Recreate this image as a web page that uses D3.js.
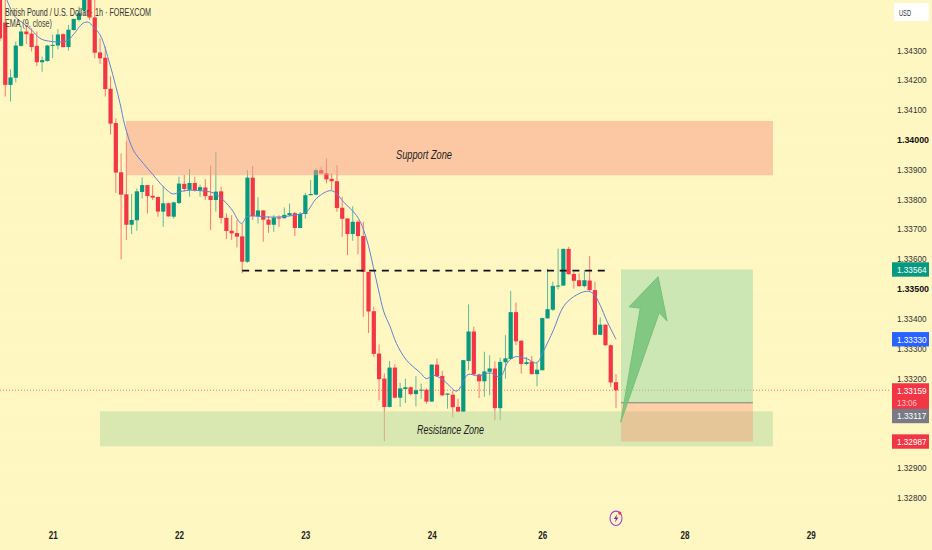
<!DOCTYPE html>
<html><head><meta charset="utf-8">
<style>html,body{margin:0;padding:0;background:#fff7c2;overflow:hidden}svg{display:block}</style>
<script src="https://cdn.jsdelivr.net/npm/d3@7/dist/d3.min.js"></script></head>
<body><svg id="c" width="932" height="550"></svg>
<script>
const opens=[1.34490,1.34392,1.34183,1.34207,1.34314,1.34362,1.34355,1.34314,1.34259,1.34263,1.34315,1.34315,1.34353,1.34310,1.34367,1.34401,1.34434,1.34468,1.34409,1.34292,1.34274,1.34170,1.34055,1.33890,1.33816,1.33714,1.33729,1.33824,1.33847,1.33811,1.33807,1.33758,1.33786,1.33741,1.33787,1.33851,1.33831,1.33854,1.33829,1.33839,1.33811,1.33797,1.33826,1.33737,1.33694,1.33686,1.33675,1.33590,1.33872,1.33742,1.33762,1.33731,1.33714,1.33738,1.33736,1.33746,1.33753,1.33703,1.33750,1.33813,1.33815,1.33897,1.33887,1.33868,1.33860,1.33771,1.33735,1.33683,1.33724,1.33676,1.33556,1.33424,1.33282,1.33198,1.33103,1.33235,1.33134,1.33163,1.33169,1.33146,1.33159,1.33161,1.33121,1.33245,1.33207,1.33144,1.33144,1.33103,1.33087,1.33257,1.33356,1.33212,1.33189,1.33221,1.33232,1.33099,1.33253,1.33264,1.33421,1.33325,1.33247,1.33255,1.33213,1.33226,1.33400,1.33429,1.33508,1.33510,1.33633,1.33549,1.33528,1.33508,1.33527,1.33495,1.33345,1.33379,1.33310,1.33186];
const highs=[1.34500,1.34468,1.34235,1.34328,1.34381,1.34378,1.34373,1.34362,1.34278,1.34317,1.34351,1.34370,1.34356,1.34384,1.34406,1.34446,1.34490,1.34490,1.34468,1.34339,1.34311,1.34211,1.34071,1.33953,1.33993,1.33817,1.33836,1.33873,1.33847,1.33847,1.33808,1.33844,1.33788,1.33791,1.33875,1.33881,1.33901,1.33875,1.33849,1.33867,1.33912,1.33957,1.33842,1.33752,1.33746,1.33730,1.33718,1.33897,1.33911,1.33806,1.33763,1.33743,1.33746,1.33746,1.33772,1.33785,1.33757,1.33757,1.33821,1.33864,1.33903,1.33909,1.33936,1.33886,1.33914,1.33808,1.33735,1.33776,1.33730,1.33724,1.33556,1.33439,1.33313,1.33215,1.33257,1.33246,1.33184,1.33198,1.33172,1.33206,1.33181,1.33165,1.33246,1.33265,1.33224,1.33149,1.33157,1.33131,1.33260,1.33447,1.33372,1.33215,1.33288,1.33276,1.33256,1.33268,1.33344,1.33492,1.33453,1.33327,1.33271,1.33274,1.33254,1.33403,1.33567,1.33523,1.33634,1.33634,1.33640,1.33556,1.33551,1.33562,1.33609,1.33523,1.33403,1.33379,1.33312,1.33213];
const lows=[1.34330,1.34144,1.34127,1.34191,1.34311,1.34320,1.34295,1.34246,1.34227,1.34261,1.34272,1.34302,1.34308,1.34298,1.34365,1.34395,1.34418,1.34401,1.34272,1.34253,1.34144,1.34017,1.33821,1.33598,1.33663,1.33683,1.33694,1.33802,1.33752,1.33797,1.33741,1.33707,1.33741,1.33735,1.33783,1.33825,1.33808,1.33825,1.33808,1.33797,1.33696,1.33758,1.33718,1.33666,1.33663,1.33638,1.33551,1.33586,1.33730,1.33718,1.33657,1.33687,1.33690,1.33707,1.33734,1.33743,1.33676,1.33702,1.33735,1.33813,1.33813,1.33884,1.33853,1.33830,1.33757,1.33674,1.33612,1.33660,1.33615,1.33405,1.33351,1.33271,1.33125,1.32988,1.33101,1.33131,1.33103,1.33116,1.33142,1.33105,1.33131,1.33114,1.33120,1.33204,1.33140,1.33097,1.33067,1.33086,1.33086,1.33226,1.33209,1.33133,1.33137,1.33142,1.33058,1.33058,1.33198,1.33262,1.33310,1.33215,1.33243,1.33212,1.33172,1.33226,1.33400,1.33425,1.33497,1.33509,1.33547,1.33500,1.33506,1.33504,1.33492,1.33344,1.33344,1.33308,1.33170,1.33099];
const closes=[1.34339,1.34183,1.34208,1.34315,1.34362,1.34353,1.34310,1.34259,1.34266,1.34315,1.34317,1.34352,1.34310,1.34368,1.34404,1.34423,1.34468,1.34409,1.34291,1.34272,1.34169,1.34053,1.33889,1.33815,1.33714,1.33730,1.33826,1.33847,1.33810,1.33805,1.33758,1.33786,1.33742,1.33789,1.33852,1.33834,1.33854,1.33829,1.33840,1.33810,1.33797,1.33825,1.33737,1.33693,1.33685,1.33674,1.33590,1.33872,1.33743,1.33762,1.33731,1.33714,1.33738,1.33737,1.33747,1.33753,1.33703,1.33750,1.33813,1.33817,1.33897,1.33886,1.33866,1.33860,1.33770,1.33734,1.33683,1.33724,1.33676,1.33556,1.33423,1.33281,1.33196,1.33103,1.33235,1.33134,1.33165,1.33169,1.33146,1.33159,1.33161,1.33121,1.33245,1.33206,1.33142,1.33148,1.33102,1.33087,1.33260,1.33356,1.33212,1.33189,1.33222,1.33232,1.33099,1.33254,1.33266,1.33421,1.33323,1.33247,1.33253,1.33213,1.33228,1.33401,1.33431,1.33509,1.33510,1.33633,1.33548,1.33526,1.33508,1.33528,1.33495,1.33345,1.33379,1.33310,1.33185,1.33159];
const emaBars=[1.3,2.85,4.4,6,7.6,9.2,12.7,13.9,15.8,16.8,17.7,19,20.9,22.8,23.7,25.3,27.2,29.1,31,32.9,34.2,36.1,38,40.5,42.4,44.3,45,45.9,46.9,48.8,50.7,53.8,57,58.2,60.1,62,63,63.9,65.2,66.5,68.1,69.6,70.9,71.9,72.9,74.1,75.3,77.2,79.8,81,82.3,84.2,86.7,87.7,88.9,90.8,93.1,95,96.5,97.8,100,101.9,103.3,105.1,107,108.9,111.4,112.7,114,115.2,117];
const emaValues=[1.34468,1.34412,1.34390,1.34367,1.34339,1.34330,1.34330,1.34351,1.34390,1.34393,1.34378,1.34351,1.34250,1.34121,1.34048,1.33965,1.33920,1.33881,1.33842,1.33817,1.33825,1.33830,1.33828,1.33821,1.33797,1.33758,1.33735,1.33718,1.33741,1.33743,1.33740,1.33741,1.33750,1.33757,1.33802,1.33825,1.33828,1.33819,1.33791,1.33769,1.33735,1.33668,1.33573,1.33495,1.33422,1.33372,1.33316,1.33260,1.33218,1.33198,1.33209,1.33193,1.33156,1.33176,1.33212,1.33207,1.33217,1.33204,1.33254,1.33271,1.33265,1.33251,1.33293,1.33360,1.33439,1.33472,1.33491,1.33483,1.33444,1.33394,1.33330];
const priceTicks=[1.343,1.342,1.341,1.34,1.339,1.338,1.337,1.336,1.335,1.334,1.333,1.332,1.331,1.33,1.329,1.328];
const boldTicks=[1.34,1.335];
const dayBars=[10,34,58,82,103,130,154];
const dayLabels=["21","22","23","24","26","28","29"];
const supportZone={bar0:23.93,bar1:146.8,top:1.34062,bottom:1.33880,label:"Support Zone"};
const resistanceZone={bar0:19,bar1:146.8,top:1.33088,bottom:1.32971,label:"Resistance Zone"};
const position={bar0:117.95,bar1:143,target:1.33564,entry:1.33117,stop:1.32987};
const levelLine={bar0:46,bar1:115,price:1.33560};
const arrowBars=[117.9,121.6,119.5,125,126.7,125.2];
const arrowPrices=[1.33052,1.33434,1.33439,1.33540,1.33391,1.33419];
const priceTags=[[1.33564,"#089981"],[1.33330,"#2962ff"],[1.33117,"#787b86"],[1.32987,"#f23645"]];
const lastPrice=1.33159,countdown="13:06";

const UP="#089981",DOWN="#f23645",FONT="'Liberation Sans',Arial,sans-serif";
const svg=d3.select("#c");
const x=d3.scaleLinear().domain([0,117]).range([0,616]);
const y=d3.scaleLinear().domain([1.343,1.328]).range([50,497.3]);
const plotRight=890;
const fmt=d3.format(".5f");

svg.append("rect").attr("width",932).attr("height",550).attr("fill","#fff7c2");
svg.append("g").selectAll("line").data(priceTicks).join("line")
  .attr("x1",0).attr("x2",plotRight).attr("y1",d=>y(d)).attr("y2",d=>y(d))
  .attr("stroke","#fff").attr("stroke-width",1).attr("stroke-opacity",.14);

const bars=d3.range(opens.length);
const cg=svg.append("g");
cg.selectAll("line").data(bars).join("line")
  .attr("x1",i=>x(i)).attr("x2",i=>x(i))
  .attr("y1",i=>y(highs[i])).attr("y2",i=>y(lows[i]))
  .attr("stroke",i=>closes[i]>=opens[i]?UP:DOWN).attr("stroke-width",1).attr("stroke-opacity",.65);
cg.selectAll("rect").data(bars).join("rect")
  .attr("x",i=>x(i)-2.1).attr("width",4.2)
  .attr("y",i=>y(Math.max(opens[i],closes[i])))
  .attr("height",i=>Math.max(1,Math.abs(y(opens[i])-y(closes[i]))))
  .attr("fill",i=>closes[i]>=opens[i]?UP:DOWN);

svg.append("line").attr("x1",0).attr("x2",plotRight).attr("y1",y(lastPrice)).attr("y2",y(lastPrice))
  .attr("stroke",DOWN).attr("stroke-opacity",.7).attr("stroke-dasharray","1 2");

function zone(z,fill){
  svg.append("rect").attr("x",x(z.bar0)).attr("width",x(z.bar1)-x(z.bar0))
    .attr("y",y(z.top)).attr("height",y(z.bottom)-y(z.top)).attr("fill",fill).attr("fill-opacity",.5);
}
zone(supportZone,"#f79984");
zone(resistanceZone,"#b3d99e");
svg.append("rect").attr("x",x(position.bar0)).attr("width",x(position.bar1)-x(position.bar0))
  .attr("y",y(position.target)).attr("height",y(position.entry)-y(position.target)).attr("fill","#99d5a6").attr("fill-opacity",.5);
svg.append("rect").attr("x",x(position.bar0)).attr("width",x(position.bar1)-x(position.bar0))
  .attr("y",y(position.entry)).attr("height",y(position.stop)-y(position.entry)).attr("fill","#f9886f").attr("fill-opacity",.35);
svg.append("line").attr("x1",x(position.bar0)).attr("x2",x(position.bar1))
  .attr("y1",y(position.entry)).attr("y2",y(position.entry)).attr("stroke","#808080").attr("stroke-width",1);

svg.append("path").datum(d3.range(emaBars.length))
  .attr("d",d3.line().x(i=>x(emaBars[i])).y(i=>y(emaValues[i])).curve(d3.curveCatmullRom))
  .attr("fill","none").attr("stroke","#5f82d6").attr("stroke-width",1);

svg.append("line").attr("x1",x(levelLine.bar0)).attr("x2",x(levelLine.bar1))
  .attr("y1",y(levelLine.price)).attr("y2",y(levelLine.price))
  .attr("stroke","#111").attr("stroke-width",1.7).attr("stroke-dasharray","7 5.7");

svg.append("polygon").attr("points",arrowBars.map((b,i)=>x(b)+","+y(arrowPrices[i])).join(" "))
  .attr("fill","#74c27a").attr("fill-opacity",.85).attr("stroke","#74c27a").attr("stroke-width",1).attr("stroke-linejoin","round");

function lab(t,cx,cy,len){
  svg.append("text").attr("x",cx).attr("y",cy).attr("text-anchor","middle").attr("font-family",FONT)
    .attr("font-style","italic").attr("font-size",12).attr("fill","#222")
    .attr("textLength",len).attr("lengthAdjust","spacingAndGlyphs").text(t);
}
lab(supportZone.label,424,159,56);
lab(resistanceZone.label,450.5,434,67);

const yAxis=svg.append("g").attr("transform","translate(897,0)")
  .call(d3.axisRight(y).tickValues(priceTicks).tickSize(0).tickPadding(0).tickFormat(fmt));
yAxis.select(".domain").remove();
yAxis.selectAll("text").attr("font-family",FONT).attr("font-size",9.5)
  .attr("fill",d=>boldTicks.includes(d)?"#111":"#333")
  .attr("font-weight",d=>boldTicks.includes(d)?"bold":"normal")
  .attr("textLength",d=>boldTicks.includes(d)?32:29.5).attr("lengthAdjust","spacingAndGlyphs");

const xAxis=svg.append("g").attr("transform","translate(0,529)")
  .call(d3.axisBottom(x).tickValues(dayBars).tickSize(0).tickPadding(3).tickFormat((d,i)=>dayLabels[i]));
xAxis.select(".domain").remove();
xAxis.selectAll("text").attr("font-family",FONT).attr("font-size",10).attr("font-weight","bold").attr("fill","#222")
  .attr("textLength",9).attr("lengthAdjust","spacingAndGlyphs");

function tag(top,h,fill){svg.append("rect").attr("x",892).attr("y",top).attr("width",37).attr("height",h).attr("fill",fill);}
function tagText(t,cy,col){
  svg.append("text").attr("x",897).attr("y",cy+3.4).attr("font-family",FONT).attr("font-size",9.5).attr("fill",col)
    .attr("textLength",t.length>5?29.5:20).attr("lengthAdjust","spacingAndGlyphs").text(t);
}
tag(y(lastPrice)-7,26,DOWN);
tagText(fmt(lastPrice),y(lastPrice)+0.5,"#fff");
tagText(countdown,y(lastPrice)+12.5,"#ffc4c8");
priceTags.forEach(([p,c])=>{const cy=p===1.33117?416:y(p);tag(cy-7.2,14.4,c);tagText(fmt(p),cy,"#fff");});

svg.append("rect").attr("x",894).attr("y",3).attr("width",35).attr("height",18).attr("fill","#fff");
svg.append("text").attr("x",899).attr("y",15.5).attr("font-family",FONT).attr("font-size",9).attr("fill","#333")
  .attr("textLength",12).attr("lengthAdjust","spacingAndGlyphs").text("USD");

svg.append("text").attr("x",5).attr("y",15.5).attr("font-family",FONT).attr("font-size",11).attr("fill","#333")
  .attr("textLength",146).attr("lengthAdjust","spacingAndGlyphs").text("British Pound / U.S. Dollar · 1h · FOREXCOM");
svg.append("text").attr("x",5).attr("y",27).attr("font-family",FONT).attr("font-size",11).attr("fill","#444")
  .attr("textLength",47).attr("lengthAdjust","spacingAndGlyphs").text("EMA (9, close)");

const b=svg.append("g").attr("transform","translate(616,518.3)");
b.append("ellipse").attr("rx",6).attr("ry",7.2).attr("fill","none").attr("stroke","#a63fd0").attr("stroke-width",1.1);
b.append("path").attr("d","M1.2,-4.2L-2.2,0.8H-0.1L-1,4.2L2.4,-0.8H0.3Z").attr("fill","#7a2fa8");
b.append("circle").attr("cx",3.8).attr("cy",-5.2).attr("r",1.6).attr("fill","#f23645");
</script></body></html>
